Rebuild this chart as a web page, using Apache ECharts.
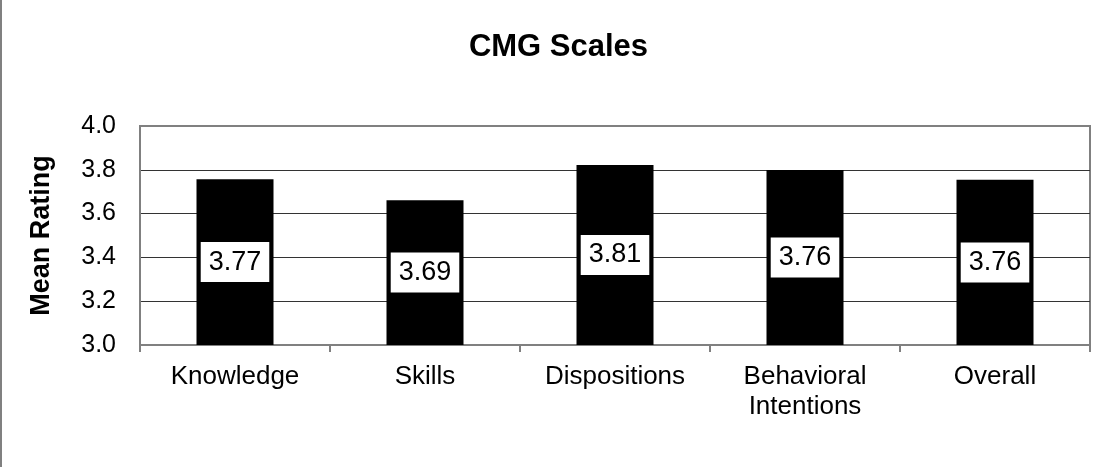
<!DOCTYPE html>
<html>
<head>
<meta charset="utf-8">
<script src="https://cdn.jsdelivr.net/npm/echarts@6/dist/echarts.min.js"></script>
<style>
html,body{margin:0;padding:0;background:#fff;}
#chart{width:1117px;height:467px;}
</style>
</head>
<body>
<div id="chart"></div>
<script>
const categories = ['Knowledge', 'Skills', 'Dispositions', 'Behavioral\nIntentions', 'Overall'];
const barValues = [3.757, 3.661, 3.822, 3.799, 3.754];
const labelTexts = ['3.77', '3.69', '3.81', '3.76', '3.76'];
const yTicks = [3.0, 3.2, 3.4, 3.6, 3.8, 4.0];

const FONT = "'Liberation Sans', Arial, sans-serif";
const chart = echarts.init(document.getElementById('chart'), null, {renderer: 'canvas'});
chart.setOption({
  animation: false,
  backgroundColor: '#fff',
  title: {
    text: 'CMG Scales',
    left: 'center',
    top: 32,
    padding: 0,
    textStyle: {fontFamily: FONT, fontSize: 31, fontWeight: 'bold', color: '#000'}
  },
  graphic: [{
    type: 'line',
    shape: {x1: 1, y1: 0, x2: 1, y2: 467},
    style: {stroke: '#808080', lineWidth: 2}
  }],
  grid: {
    left: 140, right: 27, top: 126, bottom: 122,
    show: true, borderColor: '#808080', borderWidth: 2, backgroundColor: 'transparent'
  },
  xAxis: {
    type: 'category',
    data: categories,
    axisLine: {lineStyle: {color: '#808080', width: 2}},
    axisTick: {show: true, length: 7, lineStyle: {color: '#808080', width: 2}},
    axisLabel: {fontFamily: FONT, fontSize: 26, color: '#000', margin: 17, lineHeight: 30}
  },
  yAxis: {
    type: 'value',
    min: yTicks[0],
    max: yTicks[yTicks.length - 1],
    interval: 0.2,
    name: 'Mean Rating',
    nameLocation: 'middle',
    nameRotate: 90,
    nameGap: 85,
    nameTextStyle: {fontFamily: FONT, fontSize: 27, fontWeight: 'bold', color: '#000'},
    axisLine: {show: true, lineStyle: {color: '#808080', width: 2}},
    axisTick: {show: false},
    axisLabel: {
      fontFamily: FONT, fontSize: 25, color: '#000', margin: 24,
      formatter: v => v.toFixed(1)
    },
    splitLine: {show: true, showMinLine: false, showMaxLine: false, lineStyle: {color: '#333', width: 1}}
  },
  series: [{
    type: 'bar',
    data: barValues,
    barWidth: 77,
    itemStyle: {color: '#000'},
    label: {
      show: true,
      position: 'inside',
      formatter: p => labelTexts[p.dataIndex],
      fontFamily: FONT,
      fontSize: 27,
      color: '#000',
      backgroundColor: '#fff',
      padding: [7, 8, 6, 8]
    }
  }]
});
</script>
</body>
</html>
